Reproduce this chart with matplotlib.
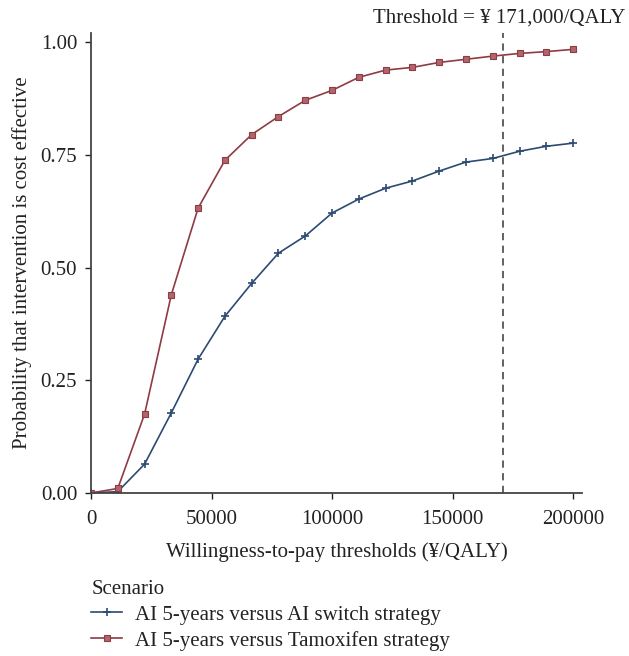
import matplotlib
matplotlib.use("Agg")
import matplotlib.pyplot as plt
from matplotlib.lines import Line2D

plt.rcParams["font.family"] = ["Liberation Serif", "DejaVu Serif"]

wtp = [0, 11111, 22222, 33333, 44444, 55556, 66667, 77778, 88889, 100000,
       111111, 122222, 133333, 144444, 155556, 166667, 177778, 188889, 200000]
switch_prob = [0.0, 0.003, 0.064, 0.178, 0.297, 0.392, 0.465, 0.532, 0.570, 0.621,
               0.652, 0.676, 0.692, 0.714, 0.734, 0.742, 0.758, 0.769, 0.776]
tamox_prob = [0.0, 0.010, 0.175, 0.440, 0.632, 0.738, 0.795, 0.835, 0.871, 0.893,
              0.922, 0.938, 0.944, 0.955, 0.962, 0.969, 0.975, 0.979, 0.984]
threshold = 171000
labels = ["AI 5-years versus AI switch strategy",
          "AI 5-years versus Tamoxifen strategy"]

blue = "#2C4A72"
red = "#8E3B43"
txt = "#222222"

fig = plt.figure(figsize=(6.29, 6.56), dpi=100)
ax = fig.add_axes([0.1447, 0.2485, 0.7806, 0.701])

ax.plot(wtp, switch_prob, color=blue, lw=1.2, marker="+", ms=6, mew=1.2)
ax.plot(wtp, tamox_prob, color=red, lw=1.2, marker="s", ms=4,
        mfc="#B0666C", mec=red, mew=0.8)
ax.axvline(threshold, color="#555555", lw=1.3, ls=(0, (4, 3)))

ax.set_xlim(0, 203700)
ax.set_ylim(0, 1.02)
ax.set_xticks([0, 50000, 100000, 150000, 200000])
ax.set_yticks([0, 0.25, 0.5, 0.75, 1.0])
ax.set_yticklabels(["0.00", "0.25", "0.50", "0.75", "1.00"])
for s in ("top", "right"):
    ax.spines[s].set_visible(False)
for s in ("left", "bottom"):
    ax.spines[s].set_color("#444444")
    ax.spines[s].set_linewidth(1.3)
ax.tick_params(labelsize=15, colors=txt, length=4, width=1)
ax.tick_params(axis="y", pad=6)
ax.tick_params(axis="x", pad=8)

ax.set_xlabel("Willingness-to-pay thresholds (¥/QALY)", fontsize=15,
              color=txt, labelpad=10)
ax.set_ylabel("Probability that intervention is cost effective", fontsize=15,
              color=txt, labelpad=6)

fig.text(0.994, 0.972, "Threshold = ¥ 171,000/QALY", ha="right", va="center",
         fontsize=15, color=txt)

handles = [Line2D([], [], color=blue, lw=1.2, marker="+", ms=6, mew=1.2),
           Line2D([], [], color=red, lw=1.2, marker="s", ms=4,
                  mfc="#B0666C", mec=red, mew=0.8)]
leg = fig.legend(handles, labels, title="Scenario", loc="lower left",
                 bbox_to_anchor=(0.145, 0.008), frameon=False,
                 fontsize=15, title_fontsize=15, handlelength=1.5,
                 handletextpad=0.6, labelspacing=0.3, borderaxespad=0,
                 borderpad=0)
leg._legend_box.align = "left"
leg.get_title().set_color(txt)
for t in leg.get_texts():
    t.set_color(txt)

fig.savefig("out.png", dpi=100)
